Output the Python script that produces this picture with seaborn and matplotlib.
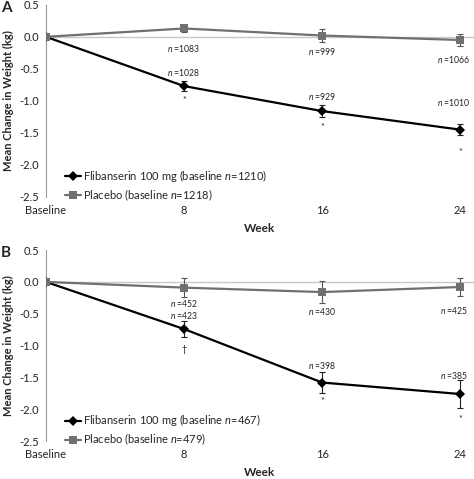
import matplotlib
matplotlib.use("Agg")
import matplotlib.pyplot as plt
import pandas as pd
import seaborn as sns

weeks = ["Baseline", "8", "16", "24"]
groups = ["Flibanserin", "Placebo"]

# Panel A
a_flib_mean = [0.0, -0.77, -1.16, -1.45]
a_flib_err = [0.0, 0.08, 0.09, 0.09]
a_plac_mean = [0.0, 0.13, 0.02, -0.05]
a_plac_err = [0.0, 0.06, 0.10, 0.10]
a_flib_n = ["", "1028", "929", "1010"]
a_plac_n = ["", "1083", "999", "1066"]
a_flib_sig = ["", "*", "*", "*"]
a_legend = ["Flibanserin 100 mg (baseline $n$=1210)", "Placebo (baseline $n$=1218)"]

# Panel B
b_flib_mean = [0.0, -0.74, -1.58, -1.76]
b_flib_err = [0.0, 0.13, 0.16, 0.22]
b_plac_mean = [0.0, -0.09, -0.16, -0.08]
b_plac_err = [0.0, 0.15, 0.17, 0.14]
b_flib_n = ["", "423", "398", "385"]
b_plac_n = ["", "452", "430", "425"]
b_flib_sig = ["", "\u2020", "*", "*"]
b_legend = ["Flibanserin 100 mg (baseline $n$=467)", "Placebo (baseline $n$=479)"]

sns.set_style("white")
plt.rcParams["font.family"] = ["Lato", "DejaVu Sans"]
plt.rcParams["mathtext.fontset"] = "custom"
plt.rcParams["mathtext.rm"] = "Lato"
plt.rcParams["mathtext.it"] = "Lato:italic"
plt.rcParams["mathtext.bf"] = "Lato:bold"

colors = {"Flibanserin": "#000000", "Placebo": "#707070"}
markers = {"Flibanserin": "D", "Placebo": "s"}


def draw_panel(ax, flib, flib_err, plac, plac_err, flib_n, plac_n, sig, legend_labels,
               plac_off, flib_off, sig_off, letter):
    x = list(range(len(weeks)))
    df = pd.DataFrame({
        "x": x + x,
        "mean": flib + plac,
        "group": [groups[0]] * len(x) + [groups[1]] * len(x),
    })
    ax.axhline(0, color="#c8c8c8", lw=1.0, zorder=0)
    sns.lineplot(data=df, x="x", y="mean", hue="group", style="group",
                 palette=colors, markers=markers, dashes=False, markersize=5.5,
                 markeredgewidth=0, lw=1.6, ax=ax, zorder=3)
    ax.errorbar(x, plac, yerr=plac_err, fmt="none", ecolor="#555555",
                elinewidth=0.8, capsize=2.5, capthick=0.8, zorder=2)
    ax.errorbar(x, flib, yerr=flib_err, fmt="none", ecolor="#222222",
                elinewidth=0.8, capsize=2.5, capthick=0.8, zorder=2)

    last = len(x) - 1
    for i in range(1, len(x)):
        # keep the right-most labels inside the figure
        dx = -6 if i == last else 0
        for lab, yv, off in ((plac_n, plac, plac_off), (flib_n, flib, flib_off)):
            ax.annotate(f"$n$ ={lab[i]}", (i, yv[i]), xytext=(dx, off[i]),
                        textcoords="offset pixels", ha="center", va="center",
                        fontsize=6.2, annotation_clip=False, color="#222222")
        ax.annotate(sig[i], (i, flib[i]), xytext=(0, sig_off[i]),
                    textcoords="offset pixels", ha="center", va="center",
                    fontsize=6.5, annotation_clip=False, color="#222222")

    ax.set_xlim(0, 3.1)
    ax.set_ylim(-2.5, 0.5)
    yt = [0.5, 0.0, -0.5, -1.0, -1.5, -2.0, -2.5]
    ax.set_yticks(yt)
    ax.set_yticklabels([f"{v:.1f}" for v in yt])
    ax.set_xticks(x)
    ax.set_xticklabels(weeks)
    ax.tick_params(axis="both", labelsize=8, colors="#222222")
    ax.tick_params(axis="y", length=3, width=0.8, color="#999999", pad=2)
    ax.tick_params(axis="x", length=0, pad=6)
    for s in ("top", "right", "bottom"):
        ax.spines[s].set_visible(False)
    ax.spines["left"].set_color("#999999")
    ax.spines["left"].set_linewidth(0.8)
    ax.set_xlabel("Week", fontsize=8.5, fontweight="bold", labelpad=5)
    ax.set_ylabel("Mean Change in Weight (kg)", fontsize=8, fontweight="bold", labelpad=4)

    handles, _ = ax.get_legend_handles_labels()
    ax.legend(handles, legend_labels, loc="lower left", bbox_to_anchor=(0.035, -0.055),
              frameon=False, fontsize=8, handlelength=1.4, handletextpad=0.2,
              labelspacing=0.3, borderaxespad=0)
    ax.text(-0.105, 0.985, letter, transform=ax.transAxes, fontsize=11,
            fontweight="bold", ha="left", va="center")


fig = plt.figure(figsize=(4.74, 4.79), dpi=100)
ax_a = fig.add_axes([0.097, 0.589, 0.903, 0.401])
ax_b = fig.add_axes([0.097, 0.079, 0.903, 0.399])

draw_panel(ax_a, a_flib_mean, a_flib_err, a_plac_mean, a_plac_err,
           a_flib_n, a_plac_n, a_flib_sig, a_legend,
           plac_off=[0, -20, -16, -19], flib_off=[0, 14, 15, 27],
           sig_off=[0, -14, -16, -23], letter="A")
draw_panel(ax_b, b_flib_mean, b_flib_err, b_plac_mean, b_plac_err,
           b_flib_n, b_plac_n, b_flib_sig, b_legend,
           plac_off=[0, -16, -19, -24], flib_off=[0, 14, 17, 19],
           sig_off=[0, -20, -19, -25], letter="B")

fig.savefig("out.png", dpi=100)
